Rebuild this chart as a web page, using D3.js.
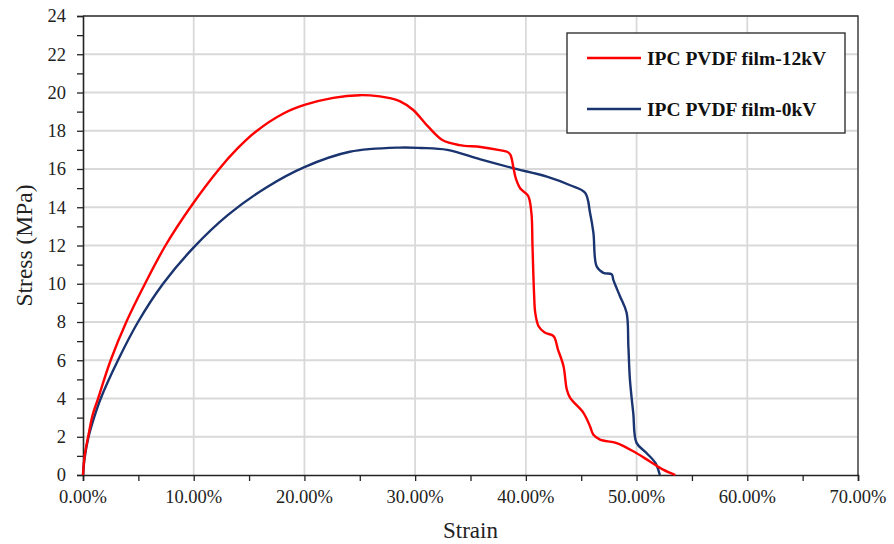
<!DOCTYPE html>
<html>
<head>
<meta charset="utf-8">
<script src="https://cdn.jsdelivr.net/npm/d3@7"></script>
<style>
  body { margin: 0; background: #fff; }
  text { font-family: "Liberation Serif", "Times New Roman", serif; fill: #222; }
</style>
</head>
<body>
<div id="chart"></div>
<script>
/**
 * DATA
 * */
const seriesNames = ["IPC PVDF film-12kV", "IPC PVDF film-0kV"];
const seriesColors = ["#ff0000", "#1a3470"];

// strain in %, stress in MPa
const strain12kV = [0, 0.15, 0.5, 0.85, 1.36, 2.5, 3.91, 5.6, 7.45, 9.7, 12.3, 14.0, 15.6, 18.1, 20.0,
  22.6, 25.0, 26.8, 27.6, 28.6, 29.8, 31.2, 32.5, 34.0, 35.9, 37.5, 38.3, 38.6, 38.9, 39.1, 39.5,
  40.2, 40.5, 40.6, 40.74, 40.85, 41.15, 41.7, 42.5, 42.9, 43.4, 43.7, 44.0, 45.2, 45.8, 46.1,
  46.7, 48.2, 49.7, 51.2, 52.4, 53.5];
const stress12kV = [0, 1.0, 2.1, 3.1, 4.0, 6.0, 8.0, 10.0, 12.0, 14.0, 16.0, 17.1, 17.95, 18.9, 19.35,
  19.72, 19.86, 19.8, 19.72, 19.55, 19.1, 18.2, 17.5, 17.25, 17.15, 17.0, 16.9, 16.75, 16.0, 15.5, 14.98,
  14.6, 13.7, 11.97, 9.5, 8.48, 7.78, 7.45, 7.26, 6.56, 5.69, 4.47, 4.03, 3.25, 2.54, 2.1,
  1.85, 1.67, 1.24, 0.71, 0.28, 0];

const strain0kV = [0, 0.15, 0.5, 1.0, 1.6, 3.16, 4.97, 7.23, 10.0, 13.1, 16.6, 20.0, 24.1, 28.6,
  30.5, 32.9, 35.9, 38.8, 41.9, 44.0, 45.35, 45.8, 46.1, 46.4, 47.0, 47.76, 47.9, 48.5, 49.1,
  49.26, 49.4, 49.7, 50.0, 50.9, 51.7, 52.1];
const stress0kV = [0, 0.9, 2.0, 3.0, 4.0, 6.0, 8.0, 10.0, 11.9, 13.6, 15.05, 16.1, 16.9, 17.12,
  17.1, 17.0, 16.5, 16.05, 15.6, 15.15, 14.76, 13.7, 12.67, 10.9, 10.57, 10.49, 10.2, 9.35, 8.48,
  6.73, 4.99, 3.25, 1.68, 1.15, 0.63, 0];

const xTicks = [0, 10, 20, 30, 40, 50, 60, 70];
const yTicks = [0, 2, 4, 6, 8, 10, 12, 14, 16, 18, 20, 22, 24];

/**
 * CONSTANTS
 * */
const width = 894, height = 544;
const margin = { top: 16, right: 36, bottom: 69, left: 83 };

const svg = d3.select("#chart").append("svg")
  .attr("width", width)
  .attr("height", height);

const x = d3.scaleLinear().domain([0, 70]).range([margin.left, width - margin.right]);
const y = d3.scaleLinear().domain([0, 24]).range([height - margin.bottom, margin.top]);

// gridlines
svg.append("g")
  .selectAll("line.hgrid")
  .data(yTicks.slice(1))
  .join("line")
  .attr("x1", x(0)).attr("x2", x(70))
  .attr("y1", d => y(d)).attr("y2", d => y(d))
  .attr("stroke", "#d9d9d9").attr("stroke-width", 1.8);

svg.append("g")
  .selectAll("line.vgrid")
  .data(xTicks.slice(1))
  .join("line")
  .attr("x1", d => x(d)).attr("x2", d => x(d))
  .attr("y1", y(0)).attr("y2", y(24))
  .attr("stroke", "#d9d9d9").attr("stroke-width", 1.8);

// frame (top + right)
svg.append("path")
  .attr("d", `M${x(0)},${y(24)}H${x(70)}V${y(0)}`)
  .attr("fill", "none")
  .attr("stroke", "#333")
  .attr("stroke-width", 1.3);

// axes
const xAxis = svg.append("g")
  .attr("transform", `translate(0,${y(0)})`)
  .call(d3.axisBottom(x).tickValues(d3.range(0, 71, 5)).tickSize(6).tickFormat(""));
const yAxis = svg.append("g")
  .attr("transform", `translate(${x(0)},0)`)
  .call(d3.axisLeft(y).tickValues(d3.range(0, 25, 1)).tickSize(6).tickFormat(""));

[xAxis, yAxis].forEach(a => {
  a.select(".domain").attr("stroke", "#222").attr("stroke-width", 1.6);
  a.selectAll(".tick line").attr("stroke", "#222").attr("stroke-width", 1.3);
});

// tick labels
svg.append("g")
  .selectAll("text")
  .data(xTicks)
  .join("text")
  .attr("x", d => x(d))
  .attr("y", y(0) + 28)
  .attr("text-anchor", "middle")
  .attr("font-size", 18.5)
  .text(d => d.toFixed(2) + "%");

svg.append("g")
  .selectAll("text")
  .data(yTicks)
  .join("text")
  .attr("x", x(0) - 17)
  .attr("y", d => y(d))
  .attr("dy", "0.35em")
  .attr("text-anchor", "end")
  .attr("font-size", 18.5)
  .text(d => d);

// axis titles
svg.append("text")
  .attr("x", (x(0) + x(70)) / 2)
  .attr("y", 538)
  .attr("text-anchor", "middle")
  .attr("font-size", 23)
  .text("Strain");

svg.append("text")
  .attr("transform", `translate(32,${(y(0) + y(24)) / 2}) rotate(-90)`)
  .attr("text-anchor", "middle")
  .attr("font-size", 23.5)
  .text("Stress (MPa)");

// lines
const line = d3.line()
  .x(d => x(d[0]))
  .y(d => y(d[1]))
  .curve(d3.curveCatmullRom.alpha(0.5));

const series = [
  d3.zip(strain12kV, stress12kV),
  d3.zip(strain0kV, stress0kV)
];

// draw blue first so red sits on top
svg.append("g")
  .selectAll("path")
  .data([1, 0])
  .join("path")
  .attr("d", i => line(series[i]))
  .attr("fill", "none")
  .attr("stroke", i => seriesColors[i])
  .attr("stroke-width", 2.4)
  .attr("stroke-linejoin", "round");

// legend
const legend = svg.append("g").attr("transform", "translate(567,33)");
legend.append("rect")
  .attr("width", 278).attr("height", 100)
  .attr("fill", "#fff")
  .attr("stroke", "#333").attr("stroke-width", 1.4);

const rows = legend.selectAll("g.row")
  .data(seriesNames)
  .join("g")
  .attr("transform", (d, i) => `translate(0,${25 + i * 51})`);

rows.append("line")
  .attr("x1", 20).attr("x2", 74)
  .attr("stroke", (d, i) => seriesColors[i])
  .attr("stroke-width", 2.6);

rows.append("text")
  .attr("x", 80)
  .attr("y", 7)
  .attr("font-size", 19.5)
  .attr("font-weight", "bold")
  .style("fill", "#111")
  .text(d => d);
</script>
</body>
</html>
